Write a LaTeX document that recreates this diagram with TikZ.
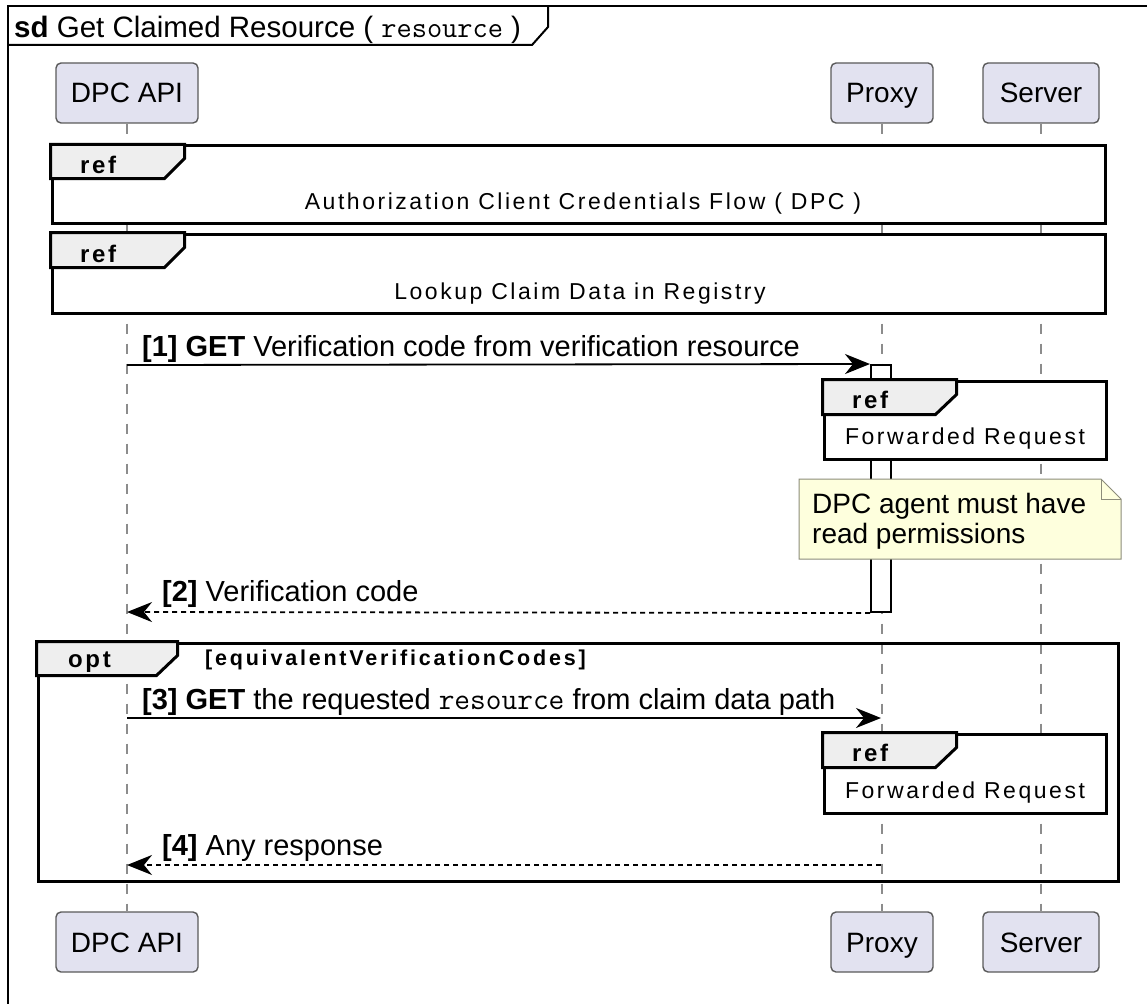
\documentclass[tikz,border=0pt]{standalone}
\usepackage{fontspec}
\setmainfont{Liberation Sans}
\newfontfamily\trackedfont[LetterSpace=11]{Liberation Sans}
\newfontfamily\guardfont[LetterSpace=13]{Liberation Sans}
\usetikzlibrary{arrows.meta}

\definecolor{partfill}{HTML}{E2E2F0}
\definecolor{partline}{HTML}{5A5A5A}
\definecolor{tabfill}{HTML}{EEEEEE}
\definecolor{notefill}{HTML}{FEFFDD}
\definecolor{noteline}{HTML}{8C8C7A}
\definecolor{lifegray}{HTML}{8C8C8C}

\newcommand{\msgmono}[1]{{\fontsize{30.5}{32}\selectfont\ttfamily #1}}

\begin{document}
\begin{tikzpicture}[x=1pt,y=-1pt,
  participant/.style={draw=partline, line width=1.4pt, fill=partfill,
    rounded corners=5pt, minimum height=60pt, inner sep=0pt,
    text height=20pt, text depth=0pt, font=\fontsize{28}{32}\selectfont},
  life/.style={draw=lifegray, line width=1.2pt, dash pattern=on 10pt off 10pt},
  refbox/.style={draw, line width=3pt, fill=white, inner sep=0pt},
  tab/.style={draw, line width=3pt, fill=tabfill, line join=miter},
  kw/.style={anchor=base west, inner sep=0pt,
    font=\fontsize{24}{28}\selectfont\trackedfont\bfseries},
  reftext/.style={anchor=base, inner sep=0pt,
    font=\fontsize{23}{27}\selectfont\trackedfont},
  msgtext/.style={anchor=base west, inner sep=0pt,
    font=\fontsize{29}{32}\selectfont},
  msg/.style={line width=1.8pt, -{Stealth[length=25pt,width=20pt,inset=8pt]}},
  reply/.style={msg, dash pattern=on 5pt off 4pt},
  activation/.style={draw, line width=2pt, fill=white, inner sep=0pt,
    minimum width=20pt, minimum height=247pt},
]
\useasboundingbox (0,0) rectangle (1147,1003);
\clip (0,0) rectangle (1147,1003);

% outer sequence diagram frame with its title tab
\draw[line width=2pt] (8,1030) -- (8,6) -- (1170,6);
\draw[line width=2pt, line join=miter] (8,45) -- (532,45) -- (548,27) -- (548,6);
\node[anchor=base west, inner sep=0pt, font=\fontsize{29.5}{33}\selectfont] (title) at (14,38)
  {\textbf{sd} Get Claimed Resource ( {\ttfamily resource} )};

% participants, head and foot
\node[participant, minimum width=142pt] (dpcT) at (127,93) {DPC API};
\node[participant, minimum width=102pt] (proxyT) at (882,93) {Proxy};
\node[participant, minimum width=116pt] (serverT) at (1041,93) {Server};
\node[participant, minimum width=142pt] (dpcB) at (127,942) {DPC API};
\node[participant, minimum width=102pt] (proxyB) at (882,942) {Proxy};
\node[participant, minimum width=116pt] (serverB) at (1041,942) {Server};

% lifelines
\draw[life] (dpcT.south) -- (dpcB.north);
\draw[life] (proxyT.south) -- (proxyB.north);
\draw[life] (serverT.south) -- (serverB.north);

% activation of the proxy
\node[activation] (act) at (881,488.5) {};

% ref: authorization
\node[refbox, minimum width=1053pt, minimum height=77pt] (ref1) at (578.5,184.5) {};
\draw[tab] (ref1.north west) -- ++(134,0) -- ++(0,14) -- ++(-20,20) -- ++(-114,0) -- cycle;
\node[kw] (ref1kw) at (80,173) {ref};
\node[reftext] (ref1txt) at (583,209) {Authorization Client Credentials Flow ( DPC )};

% ref: registry lookup
\node[refbox, minimum width=1053pt, minimum height=79pt] (ref2) at (578.5,273.5) {};
\draw[tab] (ref2.north west) -- ++(134,0) -- ++(0,15) -- ++(-20,20) -- ++(-114,0) -- cycle;
\node[kw] (ref2kw) at (80,262) {ref};
\node[reftext] (ref2txt) at (580,299) {Lookup Claim Data in Registry};

% ref: first forwarded request
\node[refbox, minimum width=282pt, minimum height=78pt] (ref3) at (965,420) {};
\draw[tab] (ref3.north west) -- ++(134,0) -- ++(0,15) -- ++(-21,20) -- ++(-113,0) -- cycle;
\node[kw] (ref3kw) at (852,408) {ref};
\node[reftext] (ref3txt) at (965,444) {Forwarded Request};

% note on the proxy
\fill[notefill] (799,479) -- (1101,479) -- (1121,499) -- (1121,559) -- (799,559) -- cycle;
\draw[noteline, line width=1pt] (799,479) -- (1101,479) -- (1121,499) -- (1121,559)
  -- (799,559) -- cycle;
\draw[noteline, line width=1pt] (1101,479) -- (1101,499) -- (1121,499);
\node[anchor=north west, inner sep=0pt, align=left,
  font=\fontsize{28}{30}\selectfont] (note) at (812,493)
  {DPC agent must have\\read permissions};

% opt fragment
\node[draw, line width=3pt, inner sep=0pt, minimum width=1080pt, minimum height=238pt]
  (opt) at (578,762) {};
\draw[tab] (opt.north west) -- ++(141,0) -- ++(0,14) -- ++(-21,20) -- ++(-120,0) -- cycle;
\node[kw] (optkw) at (68,667) {opt};
\node[anchor=base west, inner sep=0pt,
  font=\fontsize{21.5}{24}\selectfont\guardfont\bfseries] (guard) at (205,665)
  {[equivalentVerificationCodes]};

% ref: second forwarded request
\node[refbox, minimum width=282pt, minimum height=79pt] (ref4) at (965,773.5) {};
\draw[tab] (ref4.north west) -- ++(134,0) -- ++(0,15) -- ++(-21,20) -- ++(-113,0) -- cycle;
\node[kw] (ref4kw) at (852,761) {ref};
\node[reftext] (ref4txt) at (965,798) {Forwarded Request};

% messages
\coordinate (m1a) at (127,365);
\coordinate (m2b) at (127,612);
\coordinate (m3a) at (127,718);
\coordinate (m3b) at (881,718);
\coordinate (m4a) at (881,865);
\coordinate (m4b) at (127,865);

\draw[msg] (m1a) -- (act.north west);
\node[msgtext] (m1txt) at (142,356) {\textbf{[1] GET} Verification code from verification resource};

\draw[reply] (act.south west) -- (m2b);
\node[msgtext] (m2txt) at (162,601) {\textbf{[2]} Verification code};

\draw[msg] (m3a) -- (m3b);
\node[msgtext] (m3txt) at (142,709) {\textbf{[3] GET} the requested \msgmono{resource} from claim data path};

\draw[reply] (m4a) -- (m4b);
\node[msgtext] (m4txt) at (162,855) {\textbf{[4]} Any response};
\end{tikzpicture}
\end{document}
